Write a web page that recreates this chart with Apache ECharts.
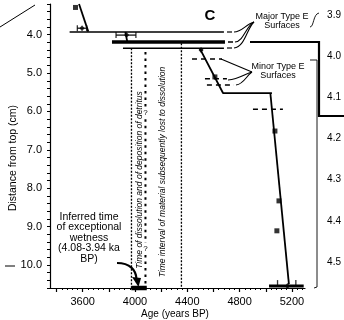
<!DOCTYPE html>
<html>
<head>
<meta charset="utf-8">
<title>Age-depth C</title>
<script src="https://cdn.jsdelivr.net/npm/echarts@6/dist/echarts.min.js"></script>
</head>
<body style="margin:0">
<div id="main" style="width:344px;height:320px;"></div>
<script>
var ageLabels = [3600, 4000, 4400, 4800, 5200];
var depthLabels = [4, 5, 6, 7, 8, 9, 10];
var sideLabels = [3.9, 4.0, 4.1, 4.2, 4.3, 4.4, 4.5];

// age-depth model pieces [age, depth]
var modelTop = [[3572, 3.2], [3643, 3.92]];
var modelMid = [[3926, 3.93], [3941, 4.18]];
var modelUpper = [[4497, 4.37], [4673, 5.52], [5047, 5.52]];
var modelLower = [[5035, 5.52], [5177, 10.50]];

// major type E surfaces
var majorA = [[3500, 3.93], [4680, 3.93]];
var majorB = [[3824, 4.19], [4688, 4.19]];
var majorC = [[3908, 4.35], [4680, 4.35]];

// minor type E surfaces
var minor1 = [[4436, 4.63], [4665, 4.63]];
var minor2 = [[4535, 5.15], [4703, 5.15]];
var minor3 = [[4550, 5.31], [4757, 5.31]];
var minor4 = [[4902, 5.94], [5131, 5.94]];

// time interval boundaries
var bound1 = [[3973, 4.35], [3973, 10.6]];
var bound2a = [[4080, 4.45], [4080, 5.88]];
var bound2b = [[4080, 6.20], [4080, 9.43]];
var bound2c = [[4080, 9.74], [4080, 10.6]];
var bound3 = [[4355, 4.22], [4355, 10.6]];
var questionMarks = [[4080, 6.04], [4080, 9.58]];

// wetness interval on the age axis
var wetBar = [[3972, 10.6], [4090, 10.6]];

// dated samples
var squares = [[3545, 3.29], [4611, 5.10], [5070, 6.51], [5101, 8.33], [5085, 9.11]];
var diamonds = [[3595, 3.83], [3936, 4.01], [4505, 4.40], [5166, 10.55]];
var errA = [[3559, 3.83], [3630, 3.83]];
var errB = [[3855, 4.01], [4007, 4.01]];
var errC = [[4494, 4.40], [4518, 4.40]];
var errD = [[5025, 10.55], [5290, 10.55]];
var errTicks = [[3559, 3.83], [3630, 3.83], [3855, 4.01], [4007, 4.01]];
var errTicksLow = [[5090, 10.55], [5230, 10.55]];

var FONT = '"Liberation Sans", Arial, sans-serif';

var majorTickVals = [];
for (var a = 3400; a <= 5200; a += 200) majorTickVals.push(a);
var minorTickVals = [];
for (var b = 3400; b <= 5280; b += 40) minorTickVals.push(b);
var depthTickVals = [];
for (var k = 16; k <= 53; k++) depthTickVals.push(k / 5);

function seg(data, w, type) {
    return {
        type: 'line', data: data, symbol: 'none', clip: false, silent: true,
        lineStyle: {color: '#000', width: w, type: type || 'solid', cap: 'butt'}
    };
}

var chart = echarts.init(document.getElementById('main'));

var option = {
    animation: false,
    textStyle: {fontFamily: FONT},
    grid: [
        {left: 50, top: 4, width: 255, height: 284},
        {left: 320, top: 15, width: 6, height: 247}
    ],
    xAxis: [
        {
            type: 'value', gridIndex: 0, position: 'bottom', min: 3350, max: 5300,
            axisLine: {lineStyle: {color: '#000', width: 1.2}},
            axisTick: {customValues: majorTickVals, length: 4, lineStyle: {color: '#000', width: 1.2}},
            axisLabel: {customValues: ageLabels, color: '#000', fontSize: 11, margin: 8, fontFamily: FONT,
                formatter: function (v) { return String(v); }},
            splitLine: {show: false}
        },
        {
            type: 'value', gridIndex: 0, position: 'bottom', min: 3350, max: 5300,
            axisLine: {show: false},
            axisTick: {customValues: minorTickVals, length: 2, lineStyle: {color: '#000', width: 1}},
            axisLabel: {show: false},
            splitLine: {show: false}
        },
        {type: 'value', gridIndex: 1, show: false}
    ],
    yAxis: [
        {
            type: 'value', gridIndex: 0, inverse: true, min: 3.2, max: 10.6,
            axisLine: {lineStyle: {color: '#000', width: 1.2}},
            axisTick: {customValues: depthTickVals, length: 3, lineStyle: {color: '#000', width: 1}},
            axisLabel: {
                customValues: depthLabels, color: '#000', fontSize: 11, margin: 8, fontFamily: FONT,
                formatter: function (v) { return v.toFixed(1); }
            },
            splitLine: {show: false}
        },
        {
            type: 'value', gridIndex: 1, inverse: true, min: 3.9, max: 4.5, position: 'right',
            axisLine: {show: false}, axisTick: {show: false}, splitLine: {show: false},
            axisLabel: {
                customValues: sideLabels, color: '#000', fontSize: 10, margin: 2, fontFamily: FONT,
                formatter: function (v) { return v.toFixed(1); }
            }
        }
    ],
    series: [
        seg(modelTop, 1.8),
        seg(modelMid, 1.8),
        seg(modelUpper, 1.8),
        seg(modelLower, 1.8),
        seg(majorA, 1.5),
        seg(majorB, 3.5),
        seg(majorC, 1.5),
        seg(minor1, 1.5, [5, 4]),
        seg(minor2, 1.5, [5, 4]),
        seg(minor3, 1.5, [5, 4]),
        seg(minor4, 1.5, [5, 4]),
        seg(bound1, 1.3, [2, 1.5]),
        seg(bound2a, 2, [2.5, 4]),
        seg(bound2b, 2, [2.5, 4]),
        seg(bound2c, 2, [2.5, 4]),
        seg(bound3, 1.3, [2, 1.5]),
        seg(wetBar, 4.5),
        seg(errA, 1.2),
        seg(errB, 1.2),
        seg(errC, 1.2),
        seg(errD, 3),
        {
            type: 'scatter', data: squares, symbol: 'rect', symbolSize: 5, silent: true,
            itemStyle: {color: '#000'}
        },
        {
            type: 'scatter', data: diamonds, symbol: 'diamond', symbolSize: [5, 6], silent: true,
            itemStyle: {color: '#000'}
        },
        {
            type: 'scatter', data: errTicks, symbol: 'rect', symbolSize: [1.3, 6], silent: true,
            itemStyle: {color: '#000'}
        },
        {
            type: 'scatter', data: errTicksLow, symbol: 'rect', symbolSize: [1.3, 6], symbolOffset: [0, -3],
            silent: true, itemStyle: {color: '#000'}
        }
    ],
    graphic: [
        // panel letter
        {type: 'text', z: 100, style: {text: 'C', x: 210, y: 16, fill: '#000', font: 'bold 15px ' + FONT,
            textAlign: 'center', textVerticalAlign: 'middle'}},
        // surface labels
        {type: 'text', z: 100, style: {text: 'Major Type E\nSurfaces', x: 282, y: 21, fill: '#000',
            font: '9px ' + FONT, lineHeight: 9, textAlign: 'center', textVerticalAlign: 'middle'}},
        {type: 'text', z: 100, style: {text: 'Minor Type E\nSurfaces', x: 278, y: 71, fill: '#000',
            font: '9px ' + FONT, lineHeight: 9, textAlign: 'center', textVerticalAlign: 'middle'}},
        // major surface leaders
        {type: 'line', z: 100, shape: {x1: 227, y1: 32, x2: 232, y2: 32}, style: {stroke: '#000', lineWidth: 1.2}},
        {type: 'line', z: 100, shape: {x1: 228, y1: 42, x2: 233, y2: 42}, style: {stroke: '#000', lineWidth: 1.5}},
        {type: 'line', z: 100, shape: {x1: 227, y1: 48, x2: 232, y2: 48}, style: {stroke: '#000', lineWidth: 1.2}},
        {type: 'bezierCurve', z: 100, shape: {x1: 234, y1: 32, cpx1: 242, cpy1: 32, cpx2: 246, cpy2: 24, x2: 254, y2: 22},
            style: {stroke: '#000', lineWidth: 1.1, fill: null}},
        {type: 'bezierCurve', z: 100, shape: {x1: 235, y1: 42, cpx1: 244, cpy1: 41, cpx2: 246, cpy2: 26, x2: 254, y2: 22},
            style: {stroke: '#000', lineWidth: 1.1, fill: null}},
        {type: 'bezierCurve', z: 100, shape: {x1: 234, y1: 48, cpx1: 245, cpy1: 47, cpx2: 247, cpy2: 28, x2: 254, y2: 22},
            style: {stroke: '#000', lineWidth: 1.1, fill: null}},
        // minor surface leaders
        {type: 'line', z: 100, shape: {x1: 252, y1: 72, x2: 221, y2: 59}, style: {stroke: '#000', lineWidth: 1.1}},
        {type: 'bezierCurve', z: 100, shape: {x1: 252, y1: 72, cpx1: 244, cpy1: 74, cpx2: 240, cpy2: 79, x2: 228, y2: 80},
            style: {stroke: '#000', lineWidth: 1.1, fill: null}},
        {type: 'bezierCurve', z: 100, shape: {x1: 252, y1: 72, cpx1: 246, cpy1: 76, cpx2: 244, cpy2: 84, x2: 236, y2: 85},
            style: {stroke: '#000', lineWidth: 1.1, fill: null}},
        // interval descriptions
        {type: 'text', z: 100, x: 140, y: 180, rotation: Math.PI / 2,
            style: {text: 'Time of dissolution and of deposition of detritus', fill: '#000',
                font: 'italic 8.5px ' + FONT, textAlign: 'center', textVerticalAlign: 'middle'}},
        {type: 'text', z: 100, x: 163, y: 172, rotation: Math.PI / 2,
            style: {text: 'Time interval of material subsequently lost to dissolution', fill: '#000',
                font: 'italic 8.5px ' + FONT, textAlign: 'center', textVerticalAlign: 'middle'}},
        // wetness note and arrow
        {type: 'text', z: 100, style: {text: 'Inferred time\nof exceptional\nwetness\n(4.08-3.94 ka\nBP)',
            x: 89, y: 238, fill: '#000', font: '10.5px ' + FONT, lineHeight: 10.5,
            textAlign: 'center', textVerticalAlign: 'middle'}},
        {type: 'bezierCurve', z: 100, shape: {x1: 117, y1: 263, cpx1: 130, cpy1: 263, cpx2: 136, cpy2: 270, x2: 136.5, y2: 279},
            style: {stroke: '#000', lineWidth: 2.2, fill: null}},
        {type: 'polygon', z: 100, shape: {points: [[132, 277], [141, 278], [138.5, 287]]}, style: {fill: '#000'}},
        // axis names
        {type: 'text', z: 100, x: 13, y: 158, rotation: Math.PI / 2,
            style: {text: 'Distance from top (cm)', fill: '#000', font: '10.5px ' + FONT,
                textAlign: 'center', textVerticalAlign: 'middle'}},
        {type: 'text', z: 100, style: {text: 'Age (years BP)', x: 175, y: 314, fill: '#000', font: '10px ' + FONT,
            textAlign: 'center', textVerticalAlign: 'middle'}},
        // fragments of neighbouring panels
        {type: 'line', z: 100, shape: {x1: 0, y1: 27, x2: 35, y2: 5}, style: {stroke: '#000', lineWidth: 1}},
        {type: 'line', z: 100, shape: {x1: 5, y1: 266, x2: 15, y2: 266}, style: {stroke: '#000', lineWidth: 1}},
        {type: 'polyline', z: 100, shape: {points: [[250, 42], [319, 42], [319, 116], [344, 116]]},
            style: {stroke: '#000', lineWidth: 2.2, fill: null}},
        {type: 'polyline', z: 100, shape: {points: [[310, 60], [317, 60], [317, 287], [314, 288]]},
            style: {stroke: '#000', lineWidth: 0.9, fill: null}},
        {type: 'bezierCurve', z: 100, shape: {x1: 310, y1: 27, cpx1: 314, cpy1: 27, cpx2: 313, cpy2: 14, x2: 319, y2: 13},
            style: {stroke: '#000', lineWidth: 0.9, fill: null}}
    ]
};

chart.setOption(option);

// question marks placed in the gaps of the middle boundary
var qGraphics = questionMarks.map(function (p) {
    var px = chart.convertToPixel({xAxisIndex: 0, yAxisIndex: 0}, p);
    return {type: 'text', z: 110, style: {text: '?', x: px[0], y: px[1], fill: '#000',
        font: '8px ' + FONT, textAlign: 'center', textVerticalAlign: 'middle'}};
});
chart.setOption({graphic: option.graphic.concat(qGraphics)});
</script>
</body>
</html>
